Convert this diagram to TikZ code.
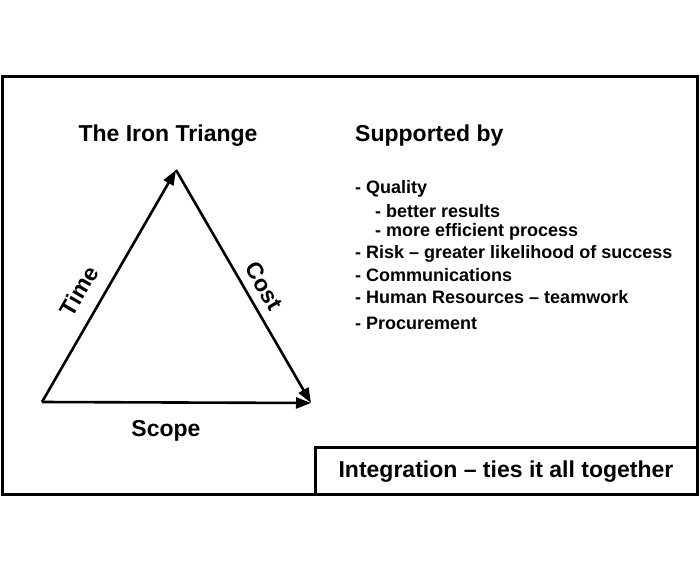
\documentclass[tikz,border=0pt]{standalone}
\usepackage{fontspec}
\setmainfont{Liberation Sans}
\usetikzlibrary{arrows.meta}
\begin{document}
\begin{tikzpicture}[x=1pt,y=-1pt,
  edge/.style={line width=2.6pt,-{Triangle[length=15pt,width=11pt]}},
  big/.style={font=\fontsize{23}{26}\selectfont\bfseries,inner sep=1pt},
  item/.style={font=\fontsize{18}{20}\selectfont\bfseries,anchor=west,inner sep=0}]
\useasboundingbox (0,0) rectangle (700,572);
\draw[line width=3pt] (2,77) rectangle (697,494);
\draw[line width=3pt] (315,447) rectangle (697,494);
\node[big] (integ) at (506,472) {Integration – ties it all together};
\coordinate (A) at (42,402);
\coordinate (B) at (176,170);
\coordinate (C) at (311,403);
\draw[edge] (A) -- (B);
\draw[edge] (B) -- (C);
\draw[edge] (A) -- (C);
\node[big] (title) at (168,136) {The Iron Triange};
\node[big,rotate=60] (time) at (79,291) {Time};
\node[big,rotate=-60] (cost) at (264,286) {Cost};
\node[big] (scope) at (166,431) {Scope};
\node[big,anchor=west,inner sep=0] (sup) at (355,136) {Supported by};
\node[item] (i1) at (355,189) {- Quality};
\node[item] (i2) at (375,211) {- better results};
\node[item] (i3) at (375,232) {- more efficient process};
\node[item] (i4) at (355,254) {- Risk – greater likelihood of success};
\node[item] (i5) at (355,275) {- Communications};
\node[item] (i6) at (355,297) {- Human Resources – teamwork};
\node[item] (i7) at (355,323) {- Procurement};
\end{tikzpicture}
\end{document}
